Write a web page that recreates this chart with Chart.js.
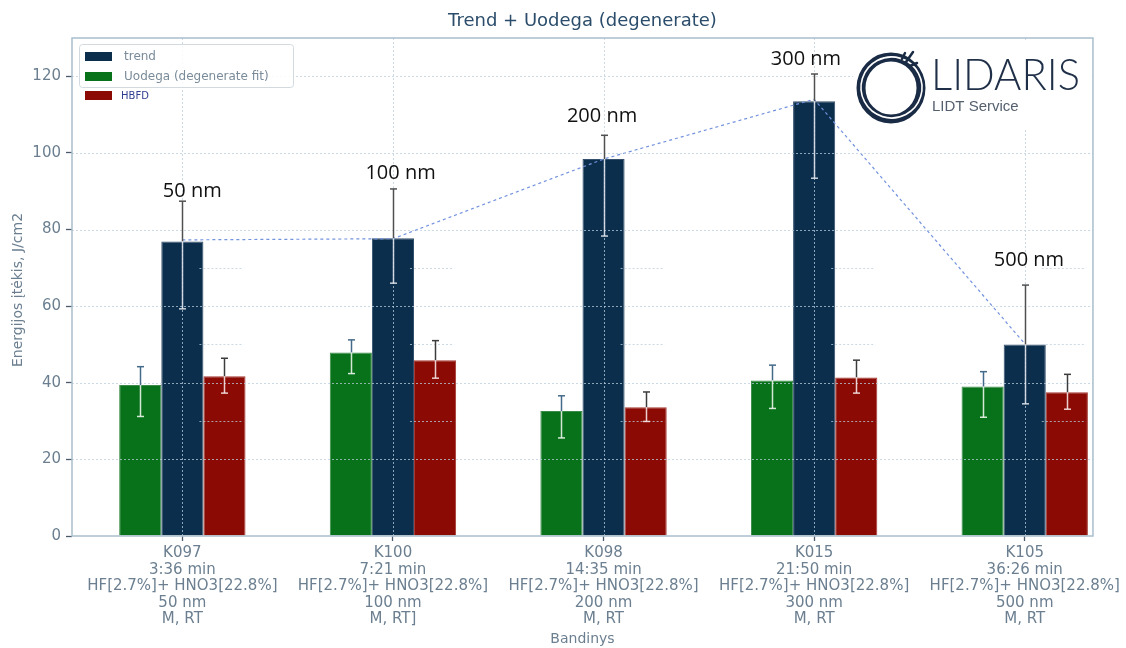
<!DOCTYPE html>
<html>
<head>
<meta charset="utf-8">
<title>Trend + Uodega (degenerate)</title>
<script src="https://cdn.jsdelivr.net/npm/chart.js@4/dist/chart.umd.min.js"></script>
<style>
  html, body { margin: 0; padding: 0; background: #ffffff; }
  #wrap { width: 1126px; height: 648px; }
</style>
</head>
<body>
<div id="wrap"><canvas id="c" width="1126" height="648"></canvas></div>
<script>
// Samples (x axis)
const categories = ['K097', 'K100', 'K098', 'K015', 'K105'];
const tickLabels = [
  ['K097', '3:36 min', 'HF[2.7%]+ HNO3[22.8%]', '50 nm', 'M, RT'],
  ['K100', '7:21 min', 'HF[2.7%]+ HNO3[22.8%]', '100 nm', 'M, RT]'],
  ['K098', '14:35 min', 'HF[2.7%]+ HNO3[22.8%]', '200 nm', 'M, RT'],
  ['K015', '21:50 min', 'HF[2.7%]+ HNO3[22.8%]', '300 nm', 'M, RT'],
  ['K105', '36:26 min', 'HF[2.7%]+ HNO3[22.8%]', '500 nm', 'M, RT']
];

// Energy fluence, J/cm2
const trend     = [76.9, 77.7, 98.4, 113.5, 50.0];
const trendLo   = [59.3, 66.0, 78.3, 93.4, 34.5];
const trendHi   = [87.4, 90.6, 104.6, 120.6, 65.5];
const uodega    = [39.4, 47.9, 32.6, 40.6, 39.0];
const uodegaLo  = [31.2, 42.4, 25.6, 33.3, 31.0];
const uodegaHi  = [44.2, 51.2, 36.6, 44.6, 42.9];
const hbfd      = [41.7, 45.9, 33.6, 41.4, 37.5];
const hbfdLo    = [37.3, 41.2, 29.9, 37.3, 33.1];
const hbfdHi    = [46.4, 51.0, 37.6, 45.9, 42.2];
const trendLine = [77.3, 77.6, 98.4, 114.0, 50.2];

// Thickness labels above each group
const sizeLabels = ['50 nm', '100 nm', '200 nm', '300 nm', '500 nm'];
const sizeLabelX = [0.047, 1.036, 1.993, 2.961, 4.02];
const sizeLabelY = [88.6, 93.1, 108.2, 122.9, 70.4];

const yTicks = [0, 20, 40, 60, 80, 100, 120];

const FONT = '"DejaVu Sans", sans-serif';
const TEXT = '#6b7f90';

const pts = arr => arr.map((v, i) => ({ x: i, y: v }));

const decor = {
  id: 'decor',
  beforeDraw(chart) {
    const ctx = chart.ctx;
    ctx.save();
    ctx.fillStyle = '#ffffff';
    ctx.fillRect(0, 0, chart.width, chart.height);
    ctx.restore();
  },
  afterDatasetsDraw(chart) {
    const ctx = chart.ctx;
    const ca = chart.chartArea;
    const xs = chart.scales.x, ys = chart.scales.y;

    // dotted grid over the bars
    ctx.save();
    ctx.setLineDash([2, 2]);
    ctx.lineWidth = 1;
    ctx.strokeStyle = 'rgba(185,205,220,0.75)';
    ys.ticks.forEach(t => {
      if (t.value === 0) return;
      const y = Math.round(ys.getPixelForValue(t.value)) + 0.5;
      ctx.beginPath(); ctx.moveTo(ca.left, y); ctx.lineTo(ca.right, y); ctx.stroke();
    });
    xs.ticks.forEach(t => {
      const x = Math.round(xs.getPixelForValue(t.value)) + 0.5;
      ctx.beginPath(); ctx.moveTo(x, ca.top); ctx.lineTo(x, ca.bottom); ctx.stroke();
    });
    // short minor lines across the right-hand bars
    const hb = chart.getDatasetMeta(3).data;
    [30, 50, 70].forEach(v => {
      const y = Math.round(ys.getPixelForValue(v)) + 0.5;
      hb.forEach(b => {
        ctx.beginPath();
        ctx.moveTo(b.x - b.width / 2 - 4, y);
        ctx.lineTo(b.x + b.width / 2 - 2, y);
        ctx.stroke();
      });
    });
    ctx.restore();

    // error bars
    ctx.save();
    ctx.setLineDash([]);
    ctx.lineWidth = 1.5;
    chart.data.datasets.forEach((ds, di) => {
      if (!ds.errLo) return;
      const meta = chart.getDatasetMeta(di);
      meta.data.forEach((bar, i) => {
        const x = Math.round(bar.x) + 0.5;
        const yTop = ys.getPixelForValue(ds.errHi[i]);
        const yBot = ys.getPixelForValue(ds.errLo[i]);
        const yBar = bar.y;
        const cap = 3.5;
        ctx.strokeStyle = ds.errOut;
        ctx.beginPath(); ctx.moveTo(x, yTop); ctx.lineTo(x, Math.min(yBar, yBot)); ctx.stroke();
        ctx.beginPath(); ctx.moveTo(x - cap, yTop); ctx.lineTo(x + cap, yTop); ctx.stroke();
        ctx.strokeStyle = ds.errIn;
        if (yBot > yBar) {
          ctx.beginPath(); ctx.moveTo(x, yBar); ctx.lineTo(x, yBot); ctx.stroke();
        }
        ctx.beginPath(); ctx.moveTo(x - cap, yBot); ctx.lineTo(x + cap, yBot); ctx.stroke();
      });
    });
    ctx.restore();

    // axes frame
    ctx.save();
    ctx.strokeStyle = '#a9bfcd';
    ctx.lineWidth = 1.5;
    ctx.strokeRect(ca.left, ca.top, ca.right - ca.left, ca.bottom - ca.top);
    ctx.restore();

    // thickness labels
    ctx.save();
    ctx.font = '20px "Open Sans", sans-serif';
    ctx.fillStyle = '#111111';
    ctx.textAlign = 'center';
    ctx.textBaseline = 'alphabetic';
    sizeLabels.forEach((s, i) => {
      ctx.fillText(s, xs.getPixelForValue(sizeLabelX[i]), ys.getPixelForValue(sizeLabelY[i]));
    });
    ctx.restore();

    // legend: trend, Uodega, HBFD (the last one spills below the frame)
    ctx.save();
    const order = [2, 1, 3];
    ctx.fillStyle = 'rgba(255,255,255,0.85)';
    ctx.strokeStyle = '#d3dadf';
    ctx.lineWidth = 1;
    ctx.beginPath();
    ctx.roundRect(79.5, 44.5, 214, 43, 3);
    ctx.fill(); ctx.stroke();
    const rows = [52, 72, 91];
    order.forEach((di, k) => {
      const ds = chart.data.datasets[di];
      ctx.fillStyle = ds.backgroundColor;
      ctx.fillRect(85, rows[k], 27, 9);
      ctx.textBaseline = 'middle';
      ctx.textAlign = 'left';
      if (k < 2) {
        ctx.font = '12px ' + FONT;
        ctx.fillStyle = '#7a8b99';
        ctx.fillText(ds.label, 124, rows[k] + 5);
      } else {
        ctx.font = '10px ' + FONT;
        ctx.fillStyle = '#2e3d8f';
        ctx.fillText(ds.label, 121, rows[k] + 5);
      }
    });
    ctx.restore();

    // LIDARIS logo
    ctx.save();
    ctx.fillStyle = '#ffffff';
    ctx.fillRect(853, 41, 238, 88);
    const cx = 891, cy = 88;
    ctx.strokeStyle = '#1a2c45';
    ctx.lineWidth = 9;
    ctx.beginPath(); ctx.ellipse(cx, cy, 30, 31, 0, 0, Math.PI * 2); ctx.stroke();
    ctx.strokeStyle = '#ffffff';
    ctx.lineWidth = 1.6;
    ctx.beginPath(); ctx.ellipse(cx + 0.5, cy - 0.5, 30.5, 30.5, 0.3, 0, Math.PI * 2); ctx.stroke();
    ctx.strokeStyle = '#1a2c45';
    ctx.lineWidth = 2.5;
    ctx.lineCap = 'round';
    ctx.beginPath(); ctx.moveTo(906, 62); ctx.lineTo(913, 52); ctx.stroke();
    ctx.beginPath(); ctx.moveTo(910, 66); ctx.lineTo(917, 63); ctx.stroke();
    ctx.beginPath(); ctx.moveTo(902, 59); ctx.lineTo(905, 53); ctx.stroke();
    ctx.fillStyle = '#1f2f47';
    ctx.textAlign = 'left';
    ctx.textBaseline = 'alphabetic';
    ctx.font = '300 43px Lato, sans-serif';
    ctx.fillText('LIDARIS', 931, 90, 149);
    ctx.fillStyle = '#55606e';
    ctx.font = '15px "Liberation Sans", Arial, sans-serif';
    ctx.fillText('LIDT Service', 932, 111, 89);
    ctx.restore();

    // titles
    ctx.save();
    ctx.fillStyle = '#2b4d6b';
    ctx.font = '18px ' + FONT;
    ctx.textAlign = 'center';
    ctx.textBaseline = 'middle';
    ctx.fillText('Trend + Uodega (degenerate)', (ca.left + ca.right) / 2, 21);
    ctx.fillStyle = TEXT;
    ctx.font = '14px ' + FONT;
    ctx.fillText('Bandinys', (ca.left + ca.right) / 2, 639);
    ctx.translate(18, (ca.top + ca.bottom) / 2 + 3);
    ctx.rotate(-Math.PI / 2);
    ctx.fillText('Energijos įtėkis, J/cm2', 0, 0);
    ctx.restore();
  }
};

new Chart(document.getElementById('c'), {
  type: 'bar',
  data: {
    datasets: [
      {
        type: 'line', label: 'trend line', data: pts(trendLine), order: -1,
        borderColor: '#7393de', borderWidth: 1.2, borderDash: [3, 3],
        pointRadius: 0, fill: false, tension: 0
      },
      {
        label: 'Uodega (degenerate fit)', data: pts(uodega),
        backgroundColor: '#08721b', borderColor: '#3b8c4a', borderWidth: 1,
        errLo: uodegaLo, errHi: uodegaHi, errOut: '#446a8a', errIn: 'rgba(235,245,235,0.9)'
      },
      {
        label: 'trend', data: pts(trend),
        backgroundColor: '#0b2e4d', borderColor: '#34506c', borderWidth: 1,
        errLo: trendLo, errHi: trendHi, errOut: '#505050', errIn: 'rgba(225,230,236,0.9)'
      },
      {
        label: 'HBFD', data: pts(hbfd),
        backgroundColor: '#8b0b04', borderColor: '#a53a33', borderWidth: 1,
        errLo: hbfdLo, errHi: hbfdHi, errOut: '#3c3c3c', errIn: 'rgba(245,228,228,0.9)'
      }
    ]
  },
  options: {
    responsive: false,
    animation: false,
    events: [],
    layout: { padding: { left: 0, top: 38, right: 32, bottom: 0 } },
    datasets: { bar: { categoryPercentage: 0.6, barPercentage: 1.0, borderSkipped: 'start' } },
    plugins: { legend: { display: false }, tooltip: { enabled: false }, title: { display: false } },
    scales: {
      x: {
        type: 'linear', min: -0.524, max: 4.324, offset: false,
        afterBuildTicks: s => { s.ticks = categories.map((_, i) => ({ value: i })); },
        afterFit: s => { s.height = 112; },
        ticks: {
          autoSkip: false, maxRotation: 0, minRotation: 0, padding: 4, color: TEXT,
          font: { family: FONT, size: 15, lineHeight: 1.1 },
          callback: v => tickLabels[v]
        },
        grid: { drawOnChartArea: false, drawTicks: true, tickLength: 5, tickColor: '#4a5a6a', tickWidth: 1.3, offset: false },
        border: { display: false }
      },
      y: {
        min: 0, max: 130,
        afterBuildTicks: s => { s.ticks = yTicks.map(v => ({ value: v })); },
        afterFit: s => { s.width = 72; },
        ticks: { padding: 5, color: TEXT, font: { family: FONT, size: 15 } },
        grid: { drawOnChartArea: false, drawTicks: true, tickLength: 6, tickColor: '#4a5a6a', tickWidth: 1.3 },
        border: { display: false }
      }
    }
  },
  plugins: [decor]
});
</script>
</body>
</html>
